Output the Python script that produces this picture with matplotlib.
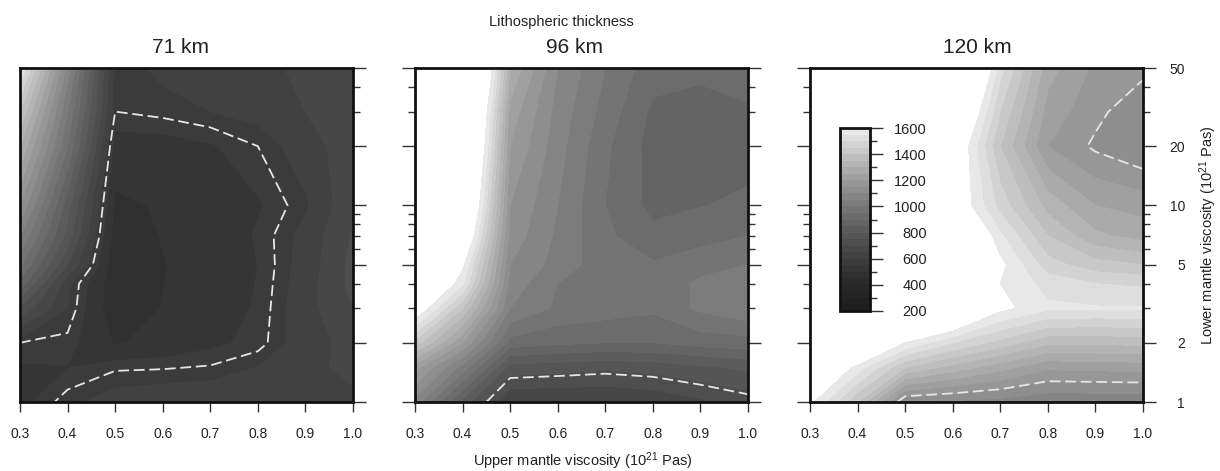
import numpy as np
import matplotlib
matplotlib.use('Agg')
import matplotlib.pyplot as plt
from matplotlib.ticker import FixedLocator, FixedFormatter, NullFormatter

plt.rcParams['font.family'] = ['Liberation Sans', 'DejaVu Sans']
plt.rcParams['mathtext.fontset'] = 'custom'
plt.rcParams['mathtext.rm'] = 'Liberation Sans'
plt.rcParams['mathtext.it'] = 'Liberation Sans:italic'
plt.rcParams['mathtext.bf'] = 'Liberation Sans:bold'
plt.rcParams['mathtext.default'] = 'regular'

# ---------------- data ----------------
upper_visc = [0.3, 0.4, 0.5, 0.6, 0.7, 0.8, 0.9, 1.0]
lower_visc = [1, 1.5, 2, 3, 4, 5, 7, 10, 20, 30, 50]

# rows follow lower_visc (1 -> 50), columns follow upper_visc
misfit_71km = [
    [535, 590, 620, 630, 635, 640, 650, 640],
    [545, 548, 570, 572, 578, 600, 640, 660],
    [575, 565, 495, 515, 540, 562, 625, 670],
    [740, 600, 465, 502, 525, 555, 630, 700],
    [880, 610, 465, 499, 520, 552, 625, 715],
    [960, 700, 465, 498, 515, 550, 620, 715],
    [1050, 778, 475, 502, 515, 555, 615, 705],
    [1150, 820, 490, 505, 515, 545, 593, 690],
    [1300, 950, 530, 530, 545, 575, 625, 680],
    [1400, 1000, 575, 585, 600, 615, 650, 690],
    [1560, 1080, 580, 610, 615, 630, 665, 690],
]
misfit_96km = [
    [1080, 830, 650, 650, 650, 660, 690, 720],
    [1220, 1030, 780, 770, 760, 770, 790, 810],
    [1430, 1200, 930, 910, 900, 900, 920, 930],
    [1680, 1400, 1050, 990, 975, 960, 1010, 1040],
    [1800, 1560, 1080, 1000, 975, 965, 1010, 1030],
    [1950, 1620, 1100, 1030, 970, 955, 980, 1000],
    [2100, 1750, 1130, 1040, 960, 915, 930, 950],
    [2200, 1850, 1150, 1050, 950, 885, 898, 910],
    [2400, 1950, 1200, 1070, 960, 880, 870, 880],
    [2500, 2000, 1230, 1080, 980, 890, 875, 895],
    [2600, 2100, 1300, 1100, 1000, 920, 915, 920],
]
misfit_120km = [
    [1620, 1400, 1100, 1090, 1080, 1060, 1060, 1060],
    [1750, 1580, 1400, 1330, 1270, 1210, 1215, 1220],
    [2000, 1800, 1600, 1500, 1430, 1360, 1360, 1365],
    [2600, 2300, 2000, 1800, 1620, 1560, 1555, 1555],
    [2700, 2400, 2100, 1850, 1600, 1530, 1500, 1490],
    [2800, 2500, 2200, 1850, 1620, 1470, 1420, 1400],
    [2900, 2600, 2200, 1800, 1560, 1400, 1310, 1280],
    [3000, 2700, 2300, 1680, 1480, 1330, 1250, 1230],
    [3000, 2800, 2300, 1700, 1400, 1200, 1140, 1100],
    [3000, 2800, 2400, 1800, 1450, 1230, 1165, 1110],
    [3000, 2800, 2500, 2000, 1520, 1270, 1190, 1165],
]
panel_titles = ['71 km', '96 km', '120 km']
dashed_levels = [575, 740, 1150]
contour_levels = list(range(200, 1650, 50))
x_ticks = [0.3, 0.4, 0.5, 0.6, 0.7, 0.8, 0.9, 1.0]
y_major = [1, 2, 5, 10, 20, 50]
y_minor = [3, 4, 6, 7, 8, 9, 30, 40]
cbar_major = [200, 400, 600, 800, 1000, 1200, 1400, 1600]
cbar_minor = [300, 500, 700, 900, 1100, 1300, 1500]

# ---------------- style ----------------
W, H = 1220, 471
TXT = '#222222'
nb = len(contour_levels) - 1
band_colors = [str((30 + 208 * ((i + 0.5) / nb) ** 1.5) / 255) for i in range(nb)]

def fx(px):
    return px / W

def fy(py):
    return 1 - py / H

fig = plt.figure(figsize=(W / 100, H / 100), dpi=100)

lefts = [20, 415, 810]
pw, ph = 333, 334
top = 68
title_x = [180, 575, 977]
data = [misfit_71km, misfit_96km, misfit_120km]
ly = np.log10(lower_visc)
cs_last = None
for i in range(3):
    ax = fig.add_axes([fx(lefts[i]), fy(top + ph), pw / W, ph / H])
    Z = np.array(data[i], dtype=float)
    cs = ax.contourf(upper_visc, ly, Z, levels=contour_levels, colors=band_colors)
    ax.contour(upper_visc, ly, Z, levels=[dashed_levels[i]], colors=['#e6e6e6'],
               linewidths=1.3, linestyles=[(0, (6, 2.6))])
    cs_last = cs
    ax.set_xlim(0.3, 1.0)
    ax.set_ylim(0, np.log10(50))
    ax.xaxis.set_major_locator(FixedLocator(x_ticks))
    ax.xaxis.set_major_formatter(FixedFormatter(['%.1f' % v for v in x_ticks]))
    ax.yaxis.set_major_locator(FixedLocator(np.log10(y_major)))
    ax.yaxis.set_minor_locator(FixedLocator(np.log10(y_minor)))
    ax.yaxis.set_major_formatter(FixedFormatter([str(v) for v in y_major]))
    ax.yaxis.set_minor_formatter(NullFormatter())
    ax.tick_params(axis='x', direction='out', length=7.2, width=1.0, color='#333333',
                   labelsize=10, labelcolor=TXT, pad=10.5)
    ax.tick_params(axis='y', which='both', direction='out', width=1.0, color='#333333',
                   left=(i > 0), right=True, labelleft=False, labelright=(i == 2),
                   labelsize=10, labelcolor=TXT)
    ax.tick_params(axis='y', which='major', length=9.4, pad=20.9)
    ax.tick_params(axis='y', which='minor', length=4.7)
    if i == 2:
        for t in ax.yaxis.get_major_ticks():
            t.label2.set_horizontalalignment('right')
    for sp in ax.spines.values():
        sp.set_linewidth(2.0)
        sp.set_color('#111111')
        sp.set_zorder(5)
    fig.text(fx(title_x[i]), fy(53), panel_titles[i], ha='center', va='baseline',
             fontsize=15, color=TXT)

fig.text(fx(561), fy(26), 'Lithospheric thickness', ha='center', va='baseline',
         fontsize=10.5, color=TXT)
fig.text(fx(583), fy(466), r'Upper mantle viscosity (10$^{21}$ Pas)', ha='center',
         va='baseline', fontsize=10.5, color=TXT)
fig.text(fx(1208), fy(235), r'Lower mantle viscosity (10$^{21}$ Pas)', ha='center',
         va='center', rotation=90, fontsize=10.5, color=TXT)

# colour bar inset
cax = fig.add_axes([fx(840), fy(311), 30 / W, 183 / H])
cb = fig.colorbar(cs_last, cax=cax, ticks=cbar_major)
cb.outline.set_linewidth(2.0)
cb.outline.set_edgecolor('#111111')
cax.yaxis.set_minor_locator(FixedLocator(cbar_minor))
cax.tick_params(which='major', direction='out', length=9.4, width=1.0, color='#333333',
                labelsize=10.5, labelcolor=TXT, pad=31.7)
cax.tick_params(which='minor', direction='out', length=4.7, width=1.0, color='#333333')
for t in cax.yaxis.get_major_ticks():
    t.label2.set_horizontalalignment('right')

fig.savefig('out.png', dpi=100)
